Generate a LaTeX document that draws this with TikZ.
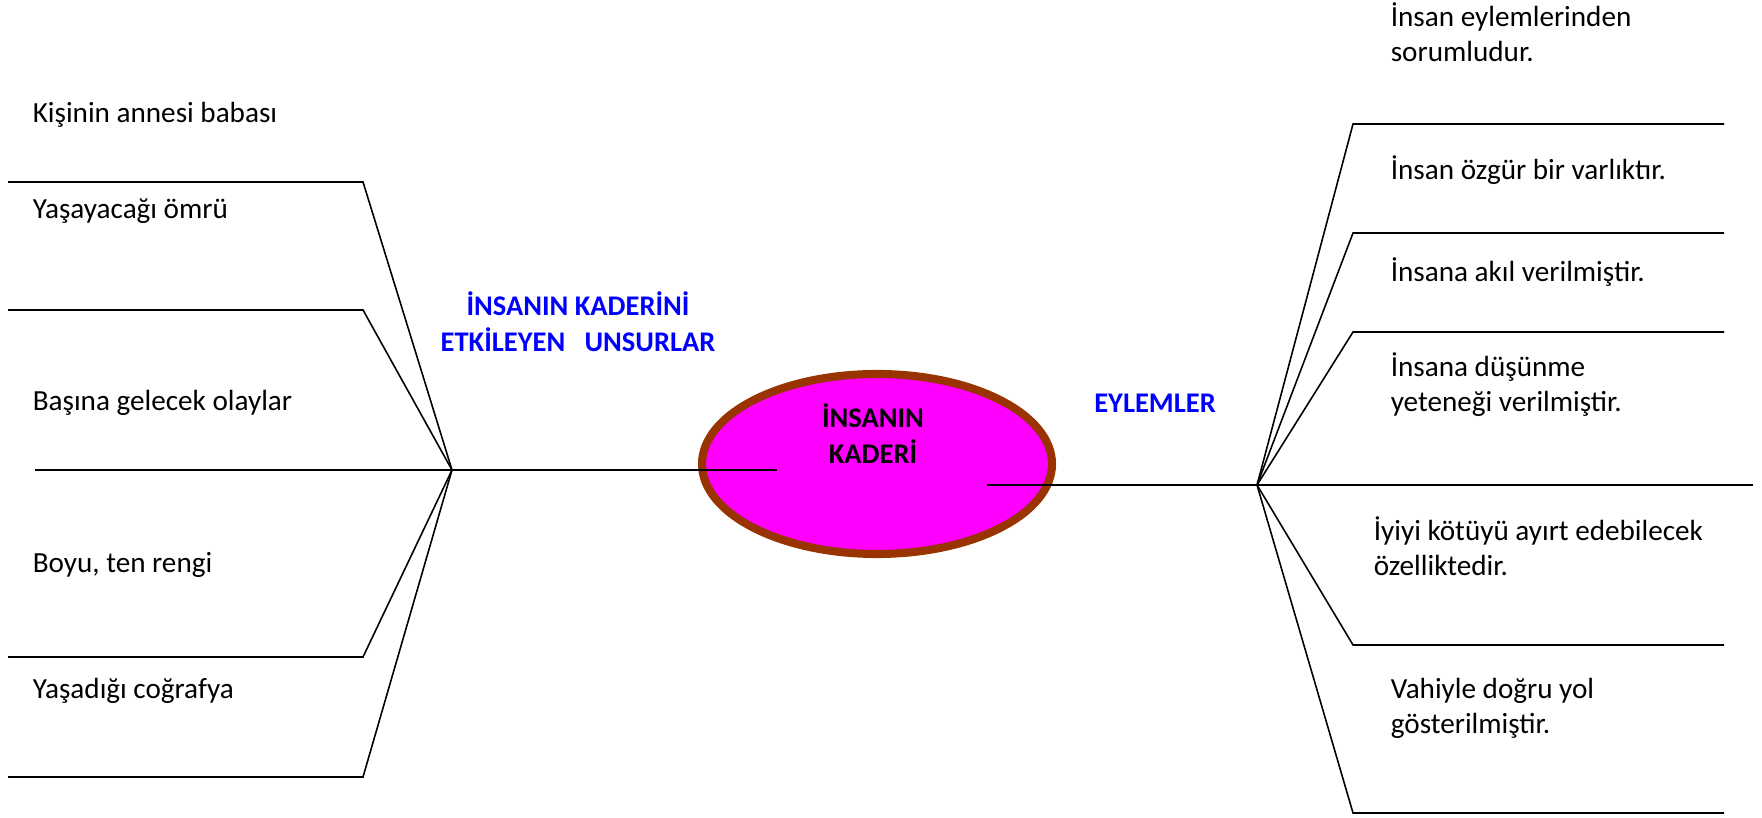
\documentclass[tikz,border=0pt]{standalone}
\usepackage{fontspec}
\setmainfont{Carlito}
\usetikzlibrary{shapes.geometric}
\definecolor{kaderbrown}{RGB}{153,51,0}
\definecolor{kaderpink}{RGB}{255,0,255}
\definecolor{titleblue}{RGB}{0,0,255}
\tikzset{
  txt/.style={font=\fontsize{8.3}{10}\selectfont, inner sep=0pt, align=left},
  ttl/.style={font=\fontsize{8.1}{10.2}\selectfont\bfseries, text=titleblue, inner sep=0pt, align=center},
}
\begin{document}
\begin{tikzpicture}[line width=0.45pt]
  \useasboundingbox (0,0) rectangle (17.62,8.18);
  \node (kader) [ellipse, draw=kaderbrown, fill=kaderpink, line width=2.3pt,
    minimum width=3.5cm, minimum height=1.8cm] at (8.77,3.54) {};
  \node (kadertxt) [ttl, text=black] at (8.73,3.84) {İNSANIN\\KADERİ};
  \coordinate (L) at (4.52,3.48);
  \coordinate (R) at (12.57,3.33);
  \coordinate (l1) at (3.63,6.36);
  \coordinate (l2) at (3.63,5.08);
  \coordinate (l3) at (3.63,1.61);
  \coordinate (l4) at (3.63,0.41);
  \coordinate (r1) at (13.53,6.94);
  \coordinate (r2) at (13.53,5.85);
  \coordinate (r3) at (13.53,4.86);
  \coordinate (r4) at (13.53,1.73);
  \coordinate (r5) at (13.53,0.05);
  \draw (0.08,6.36) -- (l1) -- (L);
  \draw (0.08,5.08) -- (l2) -- (L);
  \draw (0.08,1.61) -- (l3) -- (L);
  \draw (0.08,0.41) -- (l4) -- (L);
  \draw (0.35,3.48) -- (L) -- (7.77,3.48);
  \draw (17.24,6.94) -- (r1) -- (R);
  \draw (17.24,5.85) -- (r2) -- (R);
  \draw (17.24,4.86) -- (r3) -- (R);
  \draw (17.24,1.73) -- (r4) -- (R);
  \draw (17.24,0.05) -- (r5) -- (R);
  \draw (9.87,3.33) -- (R) -- (17.53,3.33);
  \node (unsur) [ttl] at (5.78,4.96) {İNSANIN KADERİNİ\\ETKİLEYEN\ \ \ UNSURLAR};
  \node (eylem) [ttl, anchor=base] at (11.55,4.05) {EYLEMLER};
  \node (kisinin) [txt, anchor=base west] at (0.32,6.95) {Kişinin annesi babası};
  \node (omru) [txt, anchor=base west] at (0.32,5.99) {Yaşayacağı ömrü};
  \node (olaylar) [txt, anchor=base west] at (0.32,4.07) {Başına gelecek olaylar};
  \node (boyu) [txt, anchor=base west] at (0.32,2.45) {Boyu, ten rengi};
  \node (cografya) [txt, anchor=base west] at (0.32,1.19) {Yaşadığı coğrafya};
  \node (sorumlu) [txt, anchor=base west] at (13.90,7.56) {İnsan eylemlerinden\\sorumludur.};
  \node (ozgur) [txt, anchor=base west] at (13.90,6.38) {İnsan özgür bir varlıktır.};
  \node (akil) [txt, anchor=base west] at (13.90,5.36) {İnsana akıl verilmiştir.};
  \node (dusunme) [txt, anchor=base west] at (13.90,4.06) {İnsana düşünme\\yeteneği verilmiştir.};
  \node (iyiyi) [txt, anchor=base west] at (13.73,2.42) {İyiyi kötüyü ayırt edebilecek\\özelliktedir.};
  \node (vahiy) [txt, anchor=base west] at (13.90,0.84) {Vahiyle doğru yol\\gösterilmiştir.};
\end{tikzpicture}
\end{document}
